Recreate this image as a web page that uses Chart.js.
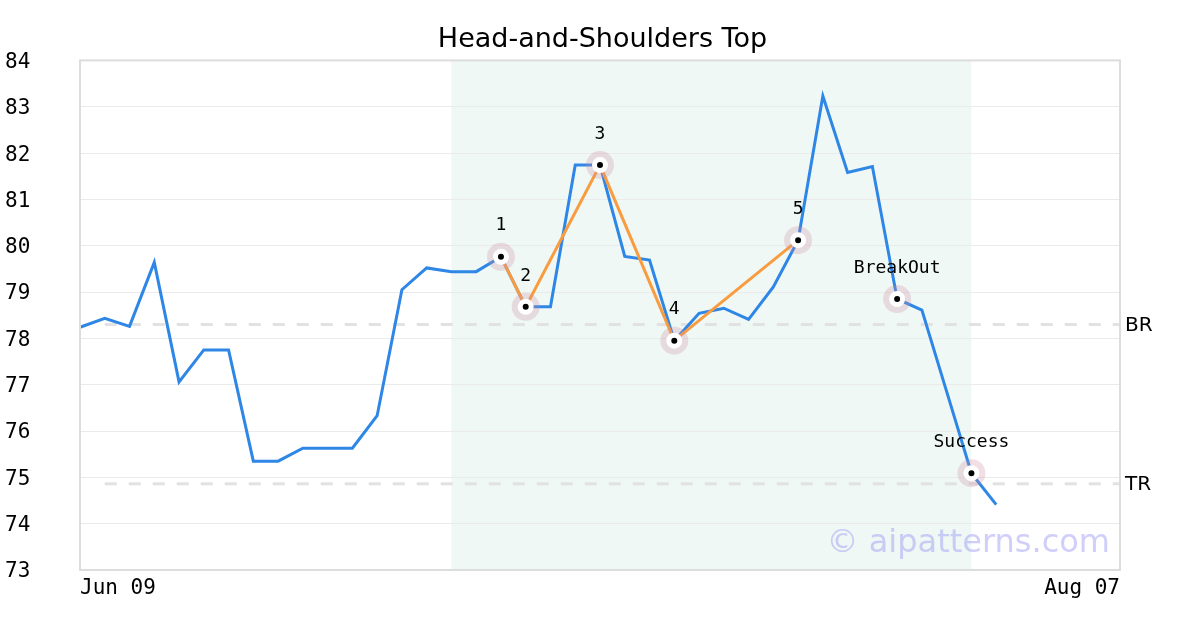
<!DOCTYPE html>
<html>
<head>
<meta charset="utf-8">
<script src="https://cdn.jsdelivr.net/npm/chart.js@4/dist/chart.umd.min.js"></script>
<style>
  html, body { margin: 0; padding: 0; background: #fff; }
  #wrap { width: 1200px; height: 630px; }
</style>
</head>
<body>
<div id="wrap"><canvas id="chart"></canvas></div>
<script>
// trading days, Jun 09 .. Aug 07 (Jul 04 closed)
const dates = ['Jun 09', 'Jun 10', 'Jun 11', 'Jun 12', 'Jun 13', 'Jun 16', 'Jun 17', 'Jun 18', 'Jun 19', 'Jun 20',
  'Jun 23', 'Jun 24', 'Jun 25', 'Jun 26', 'Jun 27', 'Jun 30', 'Jul 01', 'Jul 02', 'Jul 03', 'Jul 07',
  'Jul 08', 'Jul 09', 'Jul 10', 'Jul 11', 'Jul 14', 'Jul 15', 'Jul 16', 'Jul 17', 'Jul 18', 'Jul 21',
  'Jul 22', 'Jul 23', 'Jul 24', 'Jul 25', 'Jul 28', 'Jul 29', 'Jul 30', 'Jul 31', 'Aug 01', 'Aug 04',
  'Aug 05', 'Aug 06', 'Aug 07'];

const price = [78.24, 78.43, 78.26, 79.64, 77.06, 77.75, 77.75, 75.35, 75.35, 75.63,
  75.63, 75.63, 76.33, 79.05, 79.52, 79.44, 79.44, 79.76, 78.68, 78.68,
  81.74, 81.74, 79.77, 79.69, 77.95, 78.54, 78.65, 78.41, 79.11, 80.12,
  83.23, 81.58, 81.71, 78.85, 78.61, 76.85, 75.09, 74.41];

const patternIdx = [17, 18, 21, 24, 29];
const patternNames = ['1', '2', '3', '4', '5'];
const eventIdx = [33, 36];
const eventNames = ['BreakOut', 'Success'];

const shadeFrom = 15, shadeTo = 36;
const levels = [78.30, 74.86];
const levelNames = ['BR', 'TR'];
const levelFrom = 1;

const yTicks = [73, 84];

const markIdx = patternIdx.concat(eventIdx);
const markNames = patternNames.concat(eventNames);
const marks = markIdx.map(i => ({ x: dates[i], y: price[i] }));

const levelSets = levels.map(v => ({
  type: 'line',
  data: [{ x: dates[levelFrom], y: v }, { x: dates[dates.length - 1], y: v }],
  borderColor: '#e2e2e2',
  borderWidth: 3,
  borderDash: [12, 12],
  pointRadius: 0,
  order: 5
}));

const extras = {
  id: 'extras',
  beforeDraw(chart) {
    const { ctx, chartArea: a, scales: { x } } = chart;
    const x0 = x.getPixelForValue(shadeFrom), x1 = x.getPixelForValue(shadeTo);
    ctx.save();
    ctx.fillStyle = '#eff8f5';
    ctx.fillRect(x0, a.top, x1 - x0, a.bottom - a.top);
    ctx.restore();
  },
  afterDraw(chart) {
    const { ctx, chartArea: a, scales: { x, y } } = chart;
    ctx.save();
    // frame
    ctx.strokeStyle = '#dddddd';
    ctx.lineWidth = 2;
    ctx.strokeRect(a.left, a.top, a.right - a.left, a.bottom - a.top);
    // point labels
    ctx.fillStyle = '#000';
    ctx.font = '18px "DejaVu Sans Mono"';
    ctx.textAlign = 'center';
    ctx.textBaseline = 'middle';
    markIdx.forEach((i, k) => {
      ctx.fillText(markNames[k], x.getPixelForValue(i), y.getPixelForValue(price[i]) - 31);
    });
    // level names
    ctx.font = '20px "DejaVu Sans"';
    ctx.textAlign = 'left';
    levels.forEach((v, k) => {
      ctx.fillText(levelNames[k], a.right + 5, y.getPixelForValue(v) + 1);
    });
    // watermark
    ctx.font = '32px "DejaVu Sans"';
    ctx.fillStyle = 'rgba(160,160,245,0.5)';
    ctx.textAlign = 'right';
    ctx.textBaseline = 'alphabetic';
    ctx.fillText('\u00a9 aipatterns.com', a.right - 10, a.bottom - 18);
    ctx.restore();
  }
};

new Chart(document.getElementById('chart').getContext('2d'), {
  type: 'line',
  data: {
    labels: dates,
    datasets: [{
      data: marks,
      pointRadius: 5.5,
      pointBackgroundColor: '#000',
      pointBorderColor: '#fff',
      pointBorderWidth: 5,
      showLine: false,
      order: 0
    }, {
      data: marks,
      pointRadius: 14,
      pointBackgroundColor: 'rgba(205,140,160,0.28)',
      pointBorderWidth: 0,
      showLine: false,
      order: 1
    }, {
      data: patternIdx.map(i => ({ x: dates[i], y: price[i] })),
      borderColor: '#f99c40',
      borderWidth: 3,
      pointRadius: 0,
      order: 2
    }, {
      data: price,
      borderColor: '#2e86e6',
      borderWidth: 3,
      pointRadius: 0,
      order: 3
    }, ...levelSets]
  },
  options: {
    responsive: true,
    maintainAspectRatio: false,
    animation: false,
    layout: { padding: { left: 5, right: 0, top: 0, bottom: 0 } },
    plugins: {
      legend: { display: false },
      tooltip: { enabled: false },
      title: {
        display: true,
        text: 'Head-and-Shoulders Top',
        color: '#000',
        font: { family: 'DejaVu Sans', size: 27, weight: 'normal' },
        padding: { top: 24, bottom: 4 }
      }
    },
    scales: {
      x: {
        grid: { display: false, drawTicks: false },
        border: { display: false },
        afterFit(s) { s.height = 60; },
        ticks: {
          autoSkip: false,
          maxRotation: 0,
          align: 'inner',
          padding: 6,
          color: '#000',
          font: { family: 'DejaVu Sans Mono', size: 21 },
          callback(v, i) { return (i === 0 || i === dates.length - 1) ? dates[i] : ''; }
        }
      },
      y: {
        min: yTicks[0],
        max: yTicks[1],
        grid: { color: '#ebebeb', lineWidth: 1, drawTicks: false },
        border: { display: false },
        afterFit(s) { s.width = 75; },
        ticks: {
          stepSize: 1,
          crossAlign: 'far',
          padding: 0,
          labelOffset: 2,
          color: '#000',
          font: { family: 'DejaVu Sans Mono', size: 21 }
        }
      },
      side: {
        position: 'right',
        grid: { display: false, drawTicks: false },
        border: { display: false },
        ticks: { display: false },
        afterFit(s) { s.width = 80; }
      }
    }
  },
  plugins: [extras]
});
</script>
</body>
</html>
